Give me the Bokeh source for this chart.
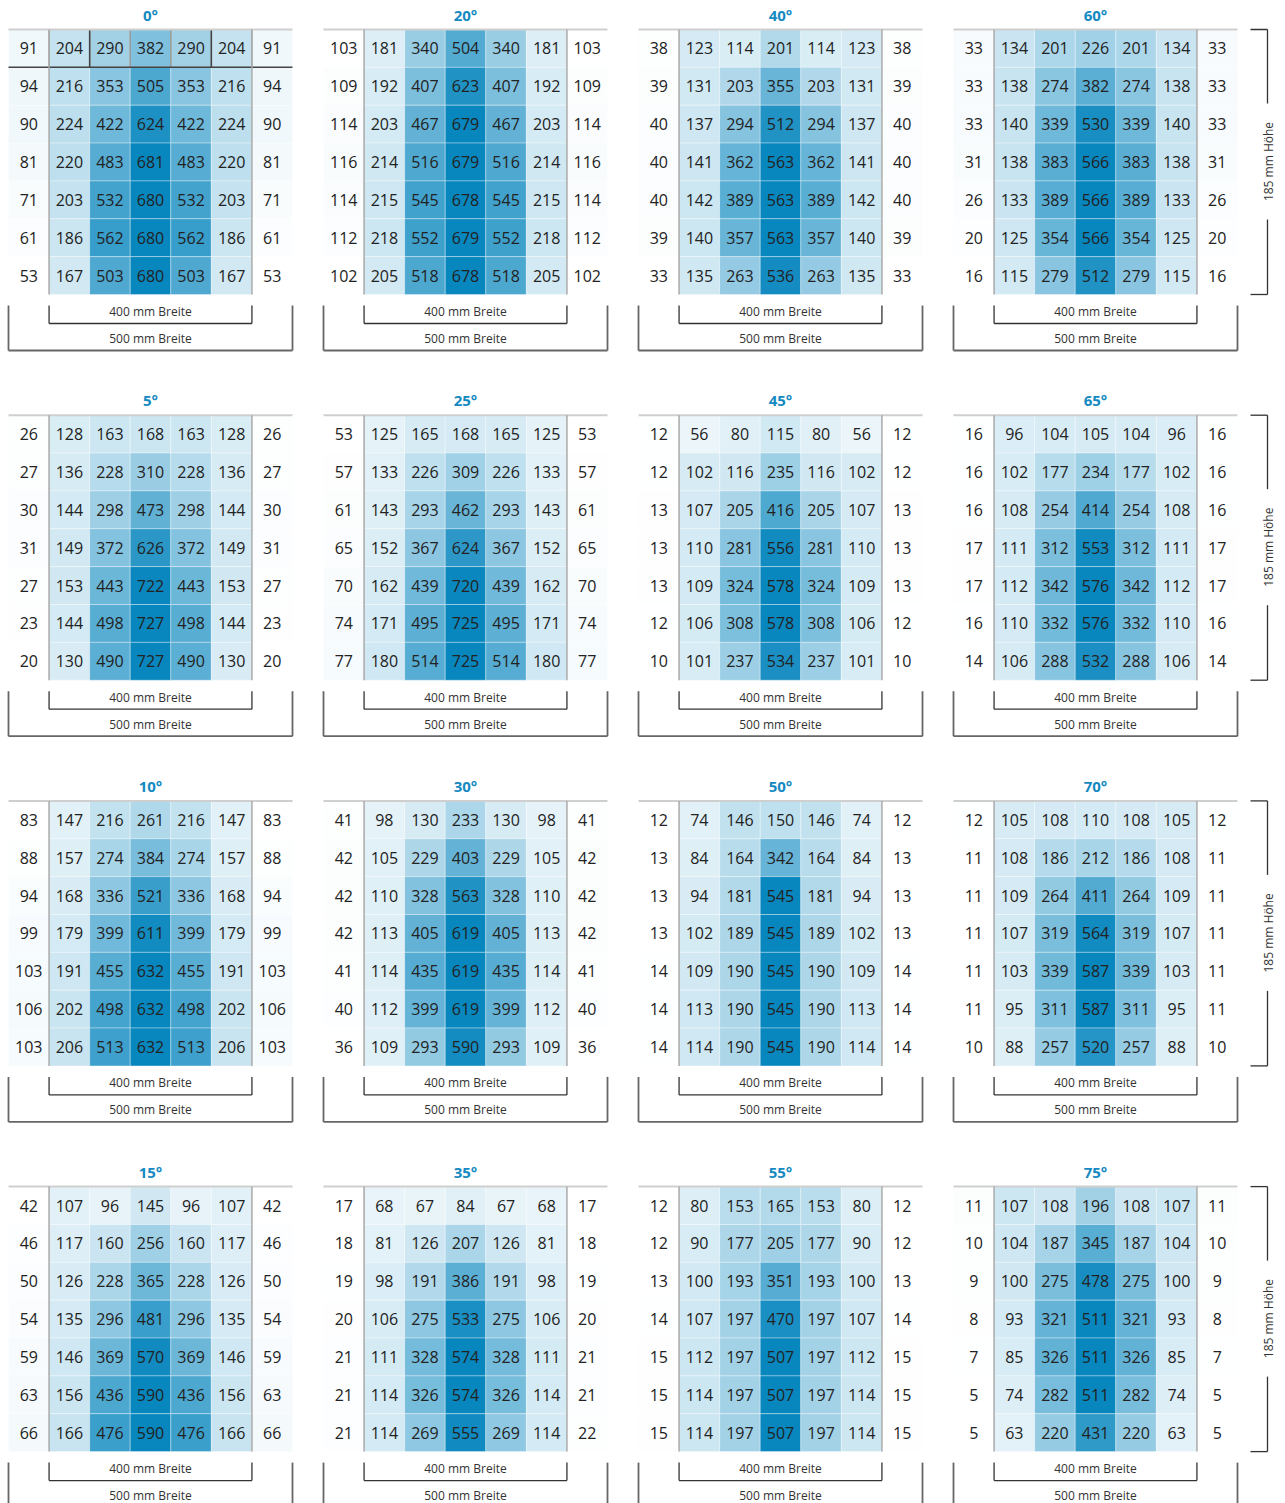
import math
from bokeh.plotting import figure
from bokeh.models import ColumnDataSource, Range1d
from bokeh.core.properties import value
from bokeh.embed import file_html
from bokeh.resources import INLINE

# ---------------- data ----------------
angles = ["0°", "20°", "40°", "60°",
          "5°", "25°", "45°", "65°",
          "10°", "30°", "50°", "70°",
          "15°", "35°", "55°", "75°"]

v0 = [[91, 204, 290, 382, 290, 204, 91],
      [94, 216, 353, 505, 353, 216, 94],
      [90, 224, 422, 624, 422, 224, 90],
      [81, 220, 483, 681, 483, 220, 81],
      [71, 203, 532, 680, 532, 203, 71],
      [61, 186, 562, 680, 562, 186, 61],
      [53, 167, 503, 680, 503, 167, 53]]
v20 = [[103, 181, 340, 504, 340, 181, 103],
       [109, 192, 407, 623, 407, 192, 109],
       [114, 203, 467, 679, 467, 203, 114],
       [116, 214, 516, 679, 516, 214, 116],
       [114, 215, 545, 678, 545, 215, 114],
       [112, 218, 552, 679, 552, 218, 112],
       [102, 205, 518, 678, 518, 205, 102]]
v40 = [[38, 123, 114, 201, 114, 123, 38],
       [39, 131, 203, 355, 203, 131, 39],
       [40, 137, 294, 512, 294, 137, 40],
       [40, 141, 362, 563, 362, 141, 40],
       [40, 142, 389, 563, 389, 142, 40],
       [39, 140, 357, 563, 357, 140, 39],
       [33, 135, 263, 536, 263, 135, 33]]
v60 = [[33, 134, 201, 226, 201, 134, 33],
       [33, 138, 274, 382, 274, 138, 33],
       [33, 140, 339, 530, 339, 140, 33],
       [31, 138, 383, 566, 383, 138, 31],
       [26, 133, 389, 566, 389, 133, 26],
       [20, 125, 354, 566, 354, 125, 20],
       [16, 115, 279, 512, 279, 115, 16]]
v5 = [[26, 128, 163, 168, 163, 128, 26],
      [27, 136, 228, 310, 228, 136, 27],
      [30, 144, 298, 473, 298, 144, 30],
      [31, 149, 372, 626, 372, 149, 31],
      [27, 153, 443, 722, 443, 153, 27],
      [23, 144, 498, 727, 498, 144, 23],
      [20, 130, 490, 727, 490, 130, 20]]
v25 = [[53, 125, 165, 168, 165, 125, 53],
       [57, 133, 226, 309, 226, 133, 57],
       [61, 143, 293, 462, 293, 143, 61],
       [65, 152, 367, 624, 367, 152, 65],
       [70, 162, 439, 720, 439, 162, 70],
       [74, 171, 495, 725, 495, 171, 74],
       [77, 180, 514, 725, 514, 180, 77]]
v45 = [[12, 56, 80, 115, 80, 56, 12],
       [12, 102, 116, 235, 116, 102, 12],
       [13, 107, 205, 416, 205, 107, 13],
       [13, 110, 281, 556, 281, 110, 13],
       [13, 109, 324, 578, 324, 109, 13],
       [12, 106, 308, 578, 308, 106, 12],
       [10, 101, 237, 534, 237, 101, 10]]
v65 = [[16, 96, 104, 105, 104, 96, 16],
       [16, 102, 177, 234, 177, 102, 16],
       [16, 108, 254, 414, 254, 108, 16],
       [17, 111, 312, 553, 312, 111, 17],
       [17, 112, 342, 576, 342, 112, 17],
       [16, 110, 332, 576, 332, 110, 16],
       [14, 106, 288, 532, 288, 106, 14]]
v10 = [[83, 147, 216, 261, 216, 147, 83],
       [88, 157, 274, 384, 274, 157, 88],
       [94, 168, 336, 521, 336, 168, 94],
       [99, 179, 399, 611, 399, 179, 99],
       [103, 191, 455, 632, 455, 191, 103],
       [106, 202, 498, 632, 498, 202, 106],
       [103, 206, 513, 632, 513, 206, 103]]
v30 = [[41, 98, 130, 233, 130, 98, 41],
       [42, 105, 229, 403, 229, 105, 42],
       [42, 110, 328, 563, 328, 110, 42],
       [42, 113, 405, 619, 405, 113, 42],
       [41, 114, 435, 619, 435, 114, 41],
       [40, 112, 399, 619, 399, 112, 40],
       [36, 109, 293, 590, 293, 109, 36]]
v50 = [[12, 74, 146, 150, 146, 74, 12],
       [13, 84, 164, 342, 164, 84, 13],
       [13, 94, 181, 545, 181, 94, 13],
       [13, 102, 189, 545, 189, 102, 13],
       [14, 109, 190, 545, 190, 109, 14],
       [14, 113, 190, 545, 190, 113, 14],
       [14, 114, 190, 545, 190, 114, 14]]
v70 = [[12, 105, 108, 110, 108, 105, 12],
       [11, 108, 186, 212, 186, 108, 11],
       [11, 109, 264, 411, 264, 109, 11],
       [11, 107, 319, 564, 319, 107, 11],
       [11, 103, 339, 587, 339, 103, 11],
       [11, 95, 311, 587, 311, 95, 11],
       [10, 88, 257, 520, 257, 88, 10]]
v15 = [[42, 107, 96, 145, 96, 107, 42],
       [46, 117, 160, 256, 160, 117, 46],
       [50, 126, 228, 365, 228, 126, 50],
       [54, 135, 296, 481, 296, 135, 54],
       [59, 146, 369, 570, 369, 146, 59],
       [63, 156, 436, 590, 436, 156, 63],
       [66, 166, 476, 590, 476, 166, 66]]
v35 = [[17, 68, 67, 84, 67, 68, 17],
       [18, 81, 126, 207, 126, 81, 18],
       [19, 98, 191, 386, 191, 98, 19],
       [20, 106, 275, 533, 275, 106, 20],
       [21, 111, 328, 574, 328, 111, 21],
       [21, 114, 326, 574, 326, 114, 21],
       [21, 114, 269, 555, 269, 114, 22]]
v55 = [[12, 80, 153, 165, 153, 80, 12],
       [12, 90, 177, 205, 177, 90, 12],
       [13, 100, 193, 351, 193, 100, 13],
       [14, 107, 197, 470, 197, 107, 14],
       [15, 112, 197, 507, 197, 112, 15],
       [15, 114, 197, 507, 197, 114, 15],
       [15, 114, 197, 507, 197, 114, 15]]
v75 = [[11, 107, 108, 196, 108, 107, 11],
       [10, 104, 187, 345, 187, 104, 10],
       [9, 100, 275, 478, 275, 100, 9],
       [8, 93, 321, 511, 321, 93, 8],
       [7, 85, 326, 511, 326, 85, 7],
       [5, 74, 282, 511, 282, 74, 5],
       [5, 63, 220, 431, 220, 63, 5]]

width_labels = ["400 mm Breite", "500 mm Breite"]
height_label = "185 mm Höhe"

panel_values = [v0, v20, v40, v60, v5, v25, v45, v65,
                v10, v30, v50, v70, v15, v35, v55, v75]

# ---------------- layout ----------------
W, H = 1285, 1503
p = figure(width=W, height=H, x_range=Range1d(0, W), y_range=Range1d(H, 0),
           output_backend="svg", toolbar_location=None, min_border=0,
           outline_line_color=None, background_fill_color="white")
p.axis.visible = False
p.grid.visible = False

FONT = value("Open Sans")
PW = 284.0          # panel width
CW = PW / 7         # cell width
CH = 265.0 / 7      # cell height
DX, DY = 315.0, 385.7
LO = (255, 255, 255)
HI = (8, 134, 190)


def col(t):
    c = [round(LO[i] + (HI[i] - LO[i]) * t) for i in range(3)]
    return "#%02x%02x%02x" % tuple(c)


cells = dict(x=[], y=[], w=[], h=[], c=[], t=[])
titles = dict(x=[], y=[], t=[])
segs = dict(x0=[], y0=[], x1=[], y1=[])        # dark bracket lines
segs2 = dict(x0=[], y0=[], x1=[], y1=[])       # 500 mm bracket (grey)
gsegs = dict(x0=[], y0=[], x1=[], y1=[])       # grey separators
tsegs = dict(x0=[], y0=[], x1=[], y1=[])       # top light line
blabels = dict(x=[], y=[], t=[])

for k, (name, vals) in enumerate(zip(angles, panel_values)):
    pr, pc = divmod(k, 4)
    x0 = 8 + pc * DX
    y0 = 29 + pr * DY
    flat = [v for row in vals for v in row]
    mn, mx = min(flat), max(flat)
    for r, row in enumerate(vals):
        for c, v in enumerate(row):
            cells["x"].append(x0 + (c + 0.5) * CW)
            cells["y"].append(y0 + (r + 0.5) * CH)
            cells["w"].append(CW)
            cells["h"].append(CH)
            cells["c"].append(col((v - mn) / (mx - mn)))
            cells["t"].append(str(v))
    titles["x"].append(x0 + PW / 2)
    titles["y"].append(y0 - 15)
    titles["t"].append(name)
    tsegs["x0"].append(x0); tsegs["x1"].append(x0 + PW)
    tsegs["y0"].append(y0); tsegs["y1"].append(y0)
    for xx in (x0 + CW, x0 + 6 * CW):
        gsegs["x0"].append(xx); gsegs["x1"].append(xx)
        gsegs["y0"].append(y0); gsegs["y1"].append(y0 + 7 * CH)
    # 400 mm bracket
    xa, xb = x0 + CW, x0 + 6 * CW
    yb = y0 + 294
    for s in ((xa, y0 + 276, xa, yb), (xb, y0 + 276, xb, yb), (xa, yb, xb, yb)):
        segs["x0"].append(s[0]); segs["y0"].append(s[1])
        segs["x1"].append(s[2]); segs["y1"].append(s[3])
    blabels["x"].append(x0 + PW / 2); blabels["y"].append(y0 + 282)
    blabels["t"].append(width_labels[0])
    # 500 mm bracket
    yb2 = y0 + 321
    for s in ((x0, y0 + 276, x0, yb2), (x0 + PW, y0 + 276, x0 + PW, yb2), (x0, yb2, x0 + PW, yb2)):
        segs2["x0"].append(s[0]); segs2["y0"].append(s[1])
        segs2["x1"].append(s[2]); segs2["y1"].append(s[3])
    blabels["x"].append(x0 + PW / 2); blabels["y"].append(y0 + 309)
    blabels["t"].append(width_labels[1])
    # right height bracket
    if pc == 3:
        xr = x0 + PW + 30
        for s in ((xr - 17, y0, xr, y0), (xr, y0, xr, y0 + 74),
                  (xr, y0 + 190, xr, y0 + 265), (xr - 17, y0 + 265, xr, y0 + 265)):
            segs["x0"].append(s[0]); segs["y0"].append(s[1])
            segs["x1"].append(s[2]); segs["y1"].append(s[3])
        p.text(x=[xr + 1], y=[y0 + 132], text=[height_label], angle=math.pi / 2,
               text_align="center", text_baseline="middle", text_font=FONT,
               text_font_size="12px", text_color="#333333")

src = ColumnDataSource(cells)
p.rect(x="x", y="y", width="w", height="h", fill_color="c", line_color="white",
       line_alpha=0.35, line_width=1, source=src)
p.text(x="x", y="y", text="t", source=src, text_align="center", text_baseline="middle",
       text_font=FONT, text_font_size="16px", text_color="#222222")

# 0° panel: highlighted first row
x0, y0 = 8, 29
hl = dict(x=[x0 + (c + 0.5) * CW for c in range(1, 6)], y=[y0 + 0.5 * CH] * 5)
p.rect(x="x", y="y", width=CW, height=CH, fill_alpha=0, line_color="#9a9a9a",
       line_width=1.2, source=ColumnDataSource(hl))
p.segment(x0=[x0, x0 + 2 * CW, x0 + 5 * CW], y0=[y0 + CH, y0, y0],
          x1=[x0 + PW, x0 + 2 * CW, x0 + 5 * CW], y1=[y0 + CH, y0 + CH, y0 + CH],
          line_color="#444444", line_width=1.5)

p.segment(x0="x0", y0="y0", x1="x1", y1="y1", source=ColumnDataSource(tsegs),
          line_color="#cfcfcf", line_width=2)
p.segment(x0="x0", y0="y0", x1="x1", y1="y1", source=ColumnDataSource(gsegs),
          line_color="#a9a9a9", line_width=1.5)
p.segment(x0="x0", y0="y0", x1="x1", y1="y1", source=ColumnDataSource(segs),
          line_color="#333333", line_width=1.3)
p.segment(x0="x0", y0="y0", x1="x1", y1="y1", source=ColumnDataSource(segs2),
          line_color="#666666", line_width=1.8)

p.text(x="x", y="y", text="t", source=ColumnDataSource(titles), text_align="center",
       text_baseline="middle", text_font=FONT, text_font_size="15px",
       text_font_style="bold", text_color="#1589c1")
p.text(x="x", y="y", text="t", source=ColumnDataSource(blabels), text_align="center",
       text_baseline="middle", text_font=FONT, text_font_size="12px", text_color="#333333")

open("out.html", "w").write(file_html(p, INLINE))
